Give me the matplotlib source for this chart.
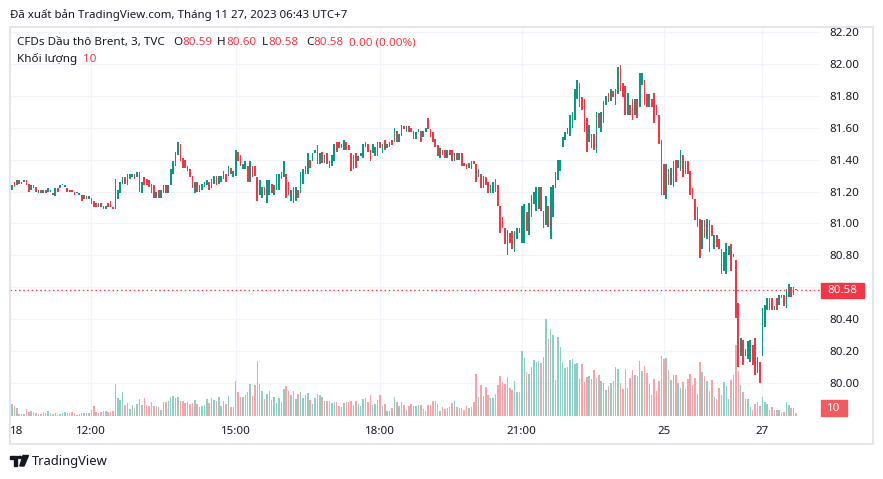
import matplotlib
matplotlib.use("Agg")
import matplotlib.pyplot as plt
import matplotlib.transforms as mtransforms
from matplotlib.patches import Rectangle, Polygon, Circle
import numpy as np

plt.rcParams['font.family'] = ['Noto Sans', 'DejaVu Sans']

# 3 minute candles (open / close) and volume
open_ = [
    81.21, 81.26, 81.24, 81.27, 81.25, 81.26, 81.27, 81.25, 81.21, 81.24,
    81.23, 81.19, 81.21, 81.19, 81.21, 81.20, 81.20, 81.19, 81.17, 81.22,
    81.22, 81.24, 81.23, 81.22, 81.21, 81.21, 81.20, 81.19, 81.18, 81.18,
    81.15, 81.17, 81.15, 81.16, 81.14, 81.13, 81.10, 81.13, 81.11, 81.09,
    81.13, 81.14, 81.10, 81.09, 81.15, 81.19, 81.25, 81.29, 81.24, 81.28,
    81.29, 81.31, 81.29, 81.32, 81.19, 81.29, 81.28, 81.27, 81.25, 81.24,
    81.16, 81.21, 81.16, 81.19, 81.24, 81.19, 81.24, 81.31, 81.36, 81.43,
    81.50, 81.41, 81.40, 81.36, 81.34, 81.30, 81.19, 81.26, 81.20, 81.21,
    81.23, 81.24, 81.26, 81.22, 81.25, 81.30, 81.25, 81.26, 81.28, 81.31,
    81.30, 81.35, 81.29, 81.30, 81.45, 81.43, 81.34, 81.34, 81.36, 81.26,
    81.36, 81.36, 81.29, 81.18,
    81.16, 81.23, 81.13, 81.18, 81.25, 81.18, 81.21, 81.21, 81.32, 81.29,
    81.31, 81.26, 81.14, 81.23, 81.14, 81.21, 81.19, 81.25, 81.31, 81.31,
    81.40, 81.39, 81.44, 81.49, 81.37, 81.45, 81.38, 81.44, 81.39, 81.36,
    81.39, 81.51, 81.51, 81.47, 81.46, 81.51, 81.49, 81.44, 81.34, 81.44,
    81.39, 81.42, 81.41, 81.51, 81.50, 81.46, 81.44, 81.42, 81.42, 81.51,
    81.44, 81.52, 81.47, 81.48, 81.52, 81.51, 81.58, 81.51, 81.55, 81.61,
    81.57, 81.61, 81.60, 81.58, 81.53, 81.57, 81.58, 81.54, 81.57, 81.66,
    81.59, 81.57, 81.53, 81.49, 81.41, 81.46, 81.46, 81.41, 81.46, 81.46,
    81.39, 81.44, 81.40, 81.44, 81.38, 81.37, 81.35, 81.34, 81.39, 81.37,
    81.29, 81.31, 81.22, 81.29, 81.26, 81.19, 81.19, 81.28, 81.24, 81.11,
    81.04, 80.97, 80.80,
    80.94, 80.95, 80.82, 80.90, 80.97, 80.88, 80.88, 81.07, 80.93, 81.04,
    81.12, 81.08, 81.09, 81.23, 81.08, 80.99, 81.11, 80.90, 81.04, 81.22,
    81.27, 81.33, 81.48, 81.52, 81.56, 81.55, 81.60, 81.65, 81.78, 81.88,
    81.79, 81.78, 81.66, 81.51, 81.56, 81.56, 81.44, 81.69, 81.57, 81.63,
    81.74, 81.82, 81.77, 81.83, 81.74, 81.81, 81.99, 81.88, 81.86, 81.68,
    81.74, 81.78, 81.68, 81.78,
    81.73, 81.87, 81.90, 81.81, 81.73, 81.78, 81.82, 81.74, 81.68, 81.52,
    81.37, 81.15, 81.34, 81.24, 81.23, 81.40, 81.35, 81.33, 81.43, 81.39,
    81.39, 81.33, 81.22, 81.15, 81.10, 81.03, 80.84, 81.02, 80.90, 81.02,
    80.99, 80.84, 80.93, 80.90, 80.84, 80.70, 80.68, 80.80, 80.87, 80.79,
    80.77, 80.50, 80.17, 80.27, 80.21, 80.15, 80.13, 80.24, 80.28, 80.06,
    80.13, 80.17, 80.35, 80.46, 80.53, 80.53, 80.46, 80.53, 80.49, 80.55,
    80.55, 80.47, 80.54, 80.60, 80.55, 80.59,
]
close_ = [
    81.24, 81.23, 81.27, 81.25, 81.26, 81.27, 81.24, 81.20, 81.24, 81.22,
    81.20, 81.21, 81.19, 81.21, 81.19, 81.22, 81.21, 81.18, 81.22, 81.20,
    81.24, 81.25, 81.24, 81.20, 81.20, 81.20, 81.18, 81.20, 81.19, 81.14,
    81.18, 81.15, 81.17, 81.12, 81.10, 81.10, 81.13, 81.10, 81.09, 81.11,
    81.10, 81.10, 81.09, 81.28, 81.21, 81.26, 81.29, 81.25, 81.31, 81.31,
    81.31, 81.28, 81.32, 81.20, 81.26, 81.24, 81.24, 81.23, 81.19, 81.16,
    81.20, 81.16, 81.21, 81.24, 81.19, 81.24, 81.34, 81.39, 81.45, 81.51,
    81.39, 81.35, 81.35, 81.33, 81.29, 81.22, 81.26, 81.20, 81.24, 81.25,
    81.26, 81.27, 81.21, 81.28, 81.30, 81.24, 81.30, 81.30, 81.33, 81.26,
    81.36, 81.31, 81.33, 81.46, 81.39, 81.36, 81.37, 81.39, 81.26, 81.39,
    81.29, 81.30, 81.14, 81.27,
    81.23, 81.18, 81.27, 81.27, 81.19, 81.24, 81.31, 81.31, 81.28, 81.39,
    81.16, 81.18, 81.21, 81.13, 81.23, 81.16, 81.32, 81.34, 81.36, 81.44,
    81.35, 81.44, 81.46, 81.37, 81.44, 81.38, 81.43, 81.37, 81.35, 81.43,
    81.50, 81.45, 81.47, 81.50, 81.52, 81.46, 81.46, 81.33, 81.43, 81.35,
    81.42, 81.44, 81.50, 81.48, 81.45, 81.39, 81.50, 81.48, 81.51, 81.47,
    81.50, 81.46, 81.50, 81.51, 81.49, 81.60, 81.51, 81.56, 81.62, 81.59,
    81.61, 81.57, 81.57, 81.53, 81.57, 81.59, 81.51, 81.58, 81.60, 81.59,
    81.54, 81.51, 81.48, 81.42, 81.47, 81.43, 81.41, 81.46, 81.43, 81.39,
    81.44, 81.40, 81.44, 81.36, 81.36, 81.34, 81.38, 81.39, 81.37, 81.26,
    81.34, 81.22, 81.30, 81.24, 81.19, 81.24, 81.26, 81.20, 81.11, 80.94,
    80.97, 80.87, 80.96,
    80.88, 80.84, 80.95, 80.97, 80.94, 81.11, 81.12, 80.95, 81.13, 81.18,
    81.20, 81.23, 81.23, 81.08, 80.97, 81.17, 80.98, 81.23, 81.24, 81.32,
    81.40, 81.40, 81.54, 81.57, 81.60, 81.68, 81.70, 81.84, 81.90, 81.73,
    81.71, 81.57, 81.45, 81.62, 81.47, 81.46, 81.70, 81.60, 81.70, 81.77,
    81.80, 81.76, 81.84, 81.79, 81.84, 81.98, 81.83, 81.79, 81.68, 81.82,
    81.68, 81.65, 81.78, 81.66,
    81.94, 81.94, 81.74, 81.73, 81.81, 81.73, 81.63, 81.68, 81.50, 81.18,
    81.18, 81.37, 81.24, 81.35, 81.39, 81.26, 81.40, 81.46, 81.29, 81.31,
    81.31, 81.18, 81.15, 81.02, 80.98, 80.78, 81.02, 80.91, 81.03, 80.82,
    80.92, 80.93, 80.85, 80.84, 80.68, 80.82, 80.88, 80.86, 80.70, 80.81,
    80.41, 80.10, 80.28, 80.11, 80.17, 80.26, 80.27, 80.11, 80.05, 80.16,
    80.00, 80.47, 80.49, 80.53, 80.46, 80.46, 80.48, 80.46, 80.55, 80.53,
    80.48, 80.59, 80.62, 80.54, 80.60, 80.58,
]
volume = [
    40, 33, 27, 7, 7, 7, 22, 13, 17, 13, 9, 7, 7, 13, 9, 17, 11, 7, 9, 4,
    7, 11, 13, 11, 9, 13, 11, 4, 7, 11, 9, 11, 9, 20, 33, 13, 11, 13, 18, 17,
    13, 13, 18, 107, 60, 53, 80, 38, 44, 24, 38, 27, 40, 56, 36, 60, 36, 33, 47, 33,
    33, 29, 20, 47, 47, 51, 62, 67, 60, 62, 49, 49, 42, 47, 40, 42, 53, 40, 31, 33,
    36, 58, 42, 60, 53, 49, 64, 33, 49, 40, 67, 31, 31, 118, 80, 64, 64, 69, 80, 107,
    67, 104, 184, 107,
    83, 58, 73, 83, 53, 63, 43, 60, 47, 90, 100, 83, 70, 83, 57, 73, 80, 60, 70, 77,
    53, 40, 60, 73, 70, 63, 50, 50, 50, 43, 47, 47, 33, 30, 43, 47, 47, 50, 37, 50,
    40, 33, 57, 60, 47, 70, 37, 40, 53, 70, 33, 40, 17, 17, 27, 63, 47, 33, 47, 37,
    20, 33, 40, 33, 33, 37, 37, 23, 17, 37, 37, 50, 50, 40, 17, 30, 23, 27, 30, 43,
    50, 30, 27, 27, 20, 33, 27, 30, 47, 140, 63, 103, 67, 97, 70, 60, 60, 73, 103, 133,
    113, 107, 130,
    93, 87, 117, 80, 80, 217, 193, 147, 140, 163, 187, 180, 183, 177, 197, 323, 257, 290, 270, 120,
    263, 230, 180, 160, 163, 187, 190, 173, 177, 123, 173, 113, 130, 133, 123, 153, 127, 137, 117, 110,
    87, 100, 110, 117, 163, 157, 110, 90, 157, 93, 127, 153, 137, 133, 183, 150, 167, 143, 107,
    70, 123, 83, 117, 200, 190, 193, 153, 120, 137, 137, 110, 93, 113, 90, 123, 140, 103, 127, 73,
    180, 147, 133, 117, 83, 120, 63, 57, 93, 70, 113, 100, 57, 120, 137, 237, 150, 103, 80, 57,
    57, 30, 20, 40, 47, 33, 63, 47, 40, 20, 30, 20, 20, 20, 10, 13, 47, 37, 27, 27,
    10,
]

price_ticks = [80.00, 80.20, 80.40, 80.60, 80.80, 81.00, 81.20, 81.40, 81.60, 81.80, 82.00, 82.20]
time_labels = ["18", "12:00", "15:00", "18:00", "21:00", "25", "27"]
time_pos = [2, 33, 93, 153, 212, 271, 312]  # candle number under each label
last_price = 80.58
last_volume = 10

title = "Đã xuất bản TradingView.com, Tháng 11 27, 2023 06:43 UTC+7"
symbol = "CFDs Dầu thô Brent, 3, TVC"
ohlc = [("O", "80.59", 173), ("H", "80.60", 217), ("L", "80.58", 262), ("C", "80.58", 306)]
change = "0.00 (0.00%)"
vol_name = "Khối lượng"

UP = "#089981"
DOWN = "#F23645"
TXT = "#131722"
GRID = "#F0F3FA"

W, H = 883, 479
fig = plt.figure(figsize=(W / 100, H / 100), dpi=100)


def fx(x):
    return x / W


def fy(y):
    return 1 - y / H


# chart pane in pixels
L, R, T, B = 10, 820, 27, 419
step = 2.405      # px per candle
x0 = 12           # px of first candle
ppu = 159.5       # px per 1.00 of price
vpx = 0.3         # px per volume unit

rect = [fx(L), fy(B), (R - L) / W, (B - T) / H]
axv = fig.add_axes(rect)
ax = fig.add_axes(rect, sharex=axv)
ax.patch.set_alpha(0)

o = np.array(open_)
c = np.array(close_)
xs = np.arange(len(c))
rising = c > o
colors = np.where(rising, UP, DOWN)
vcolors = np.where(rising, "#8CD0C5", "#F7A3A9")

axv.set_xlim((L - x0) / step, (R - x0) / step)
ax.set_ylim(82.20 - (B - 32) / ppu, 82.20 + (32 - T) / ppu)
vmin = -(B - 416) / vpx
axv.set_ylim(vmin, vmin + (B - T) / vpx)

# grid (behind everything)
ytr = ax.get_yaxis_transform()
for p in price_ticks:
    axv.plot([0, 1], [p, p], transform=ytr, color=GRID, lw=0.9, zorder=0)
for t in time_pos[1:]:
    axv.axvline(t, color=GRID, lw=0.9, zorder=0)

axv.bar(xs, volume, width=0.62, color=vcolors, linewidth=0, zorder=2)

body = np.maximum(np.abs(c - o), 0.007)
ax.bar(xs, body, bottom=np.minimum(o, c), width=0.7, color=colors, linewidth=0, zorder=3)

ax.axhline(last_price, color=DOWN, lw=0.9, ls=(0, (1.2, 2.2)), zorder=4)

for a in (ax, axv):
    for s in a.spines.values():
        s.set_visible(False)
axv.tick_params(left=False, bottom=False, labelleft=False, labelbottom=False)

ax.yaxis.tick_right()
ax.set_yticks(price_ticks)
ax.set_yticklabels(["" if abs(p - last_price) < 0.05 else f"{p:.2f}" for p in price_ticks])
ax.tick_params(axis="y", length=0, pad=6.5, labelsize=8.3, labelcolor=TXT)
ax.set_xticks(time_pos)
ax.set_xticklabels(time_labels)
ax.tick_params(axis="x", length=0, pad=5, labelsize=8.3, labelcolor=TXT)

# last price / last volume labels on the price scale
btr = mtransforms.blended_transform_factory(fig.transFigure, ax.transData)
half = 7.5 / ppu
fig.patches.append(Rectangle((fx(820.5), last_price - half), 43 / W, 2 * half,
                             transform=btr, color=DOWN, zorder=5))
fig.text(fx(842), last_price, f"{last_price:.2f}", transform=btr, ha="center", va="center",
         color="white", fontsize=8.3, fontweight="bold", zorder=6)
fig.patches.append(Rectangle((fx(820.5), fy(416)), 26.5 / W, 16 / H,
                             transform=fig.transFigure, color="#EF5B5F", zorder=5))
fig.text(fx(833.8), fy(408.2), str(last_volume), ha="center", va="center",
         color="white", fontsize=8.3, fontweight="bold", zorder=6)

# frame around the chart
fig.patches.append(Rectangle((fx(9.5), fy(443.5)), 863 / W, 417 / H, transform=fig.transFigure,
                             fill=False, ec="#E0E3EB", lw=1.3))

# header
fig.text(fx(10), fy(15), title, ha="left", va="center", fontsize=8.25, color=TXT)
fig.text(fx(17), fy(42.7), symbol, ha="left", va="center", fontsize=8.4, color=TXT)
for letter, val, px in ohlc:
    t = fig.text(fx(px), fy(42.7), letter, ha="left", va="center", fontsize=8.4, color=TXT)
    ax.annotate(val, xy=(1, 0.5), xycoords=t, xytext=(0.3, 0), textcoords="offset points",
                ha="left", va="center", fontsize=8.4, color=DOWN, annotation_clip=False)
fig.text(fx(349), fy(42.7), change, ha="left", va="center", fontsize=8.4, color=DOWN)
fig.text(fx(17), fy(59.3), vol_name, ha="left", va="center", fontsize=8.4, color=TXT)
fig.text(fx(83), fy(59.3), str(last_volume), ha="left", va="center", fontsize=8.4, color=DOWN)

# TradingView logo + name
def pxy(pts):
    return [(fx(a), fy(b)) for a, b in pts]

fig.patches.append(Polygon(pxy([(10, 455.5), (17, 455.5), (17, 466), (13.5, 466), (13.5, 459), (10, 459)]),
                           closed=True, transform=fig.transFigure, color=TXT))
fig.patches.append(Circle((fx(19.8), fy(457.4)), 1.9 / W, transform=fig.transFigure, color=TXT))
fig.patches.append(Polygon(pxy([(23, 455.5), (28.5, 455.5), (24, 466), (19.8, 466)]),
                           closed=True, transform=fig.transFigure, color=TXT))
fig.text(fx(32), fy(461.5), "TradingView", ha="left", va="center", fontsize=9.3, color=TXT)

fig.savefig("out.png", dpi=100)
